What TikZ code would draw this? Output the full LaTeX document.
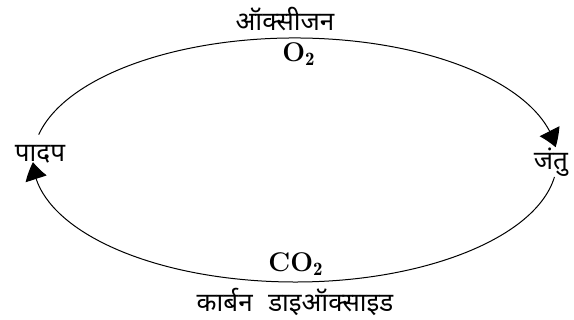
\documentclass[tikz,border=0pt]{standalone}
\usepackage{fontspec}
\newfontfamily\deva[Script=Devanagari]{Noto Sans}
\usetikzlibrary{arrows.meta,bending,calc}
\begin{document}
\begin{tikzpicture}[x=0.5pt,y=0.5pt,
  hindi/.style={font=\deva\fontsize{13}{15}\selectfont, inner sep=0pt},
  chem/.style={font=\bfseries\fontsize{13.5}{15}\selectfont, inner sep=0pt},
  cycle/.style={line width=0.5pt, -{Triangle[length=8.5pt,width=11pt,bend]}}]
\useasboundingbox (0,0) rectangle (574,320);
\node[hindi] (oxy) at (285,301) {ऑक्सीजन};
\node[chem] (o2) at (299,266) {O$_{\mathbf{2}}$};
\node[hindi] (plant) at (40,166) {पादप};
\node[hindi] (animal) at (551,158) {जंतु};
\node[chem] (co2) at (296,56) {CO$_{\mathbf{2}}$};
\node[hindi] (cdo) at (295,18) {कार्बन\hspace{0.6em}डाइऑक्साइड};
\coordinate (c) at (295,160);
\draw[cycle] ($(c)+(168:262 and 122)$) arc[start angle=168, end angle=6, x radius=262, y radius=122];
\draw[cycle] ($(c)+(-8:262 and 122)$) arc[start angle=-8, end angle=-179, x radius=262, y radius=122];
\end{tikzpicture}
\end{document}
